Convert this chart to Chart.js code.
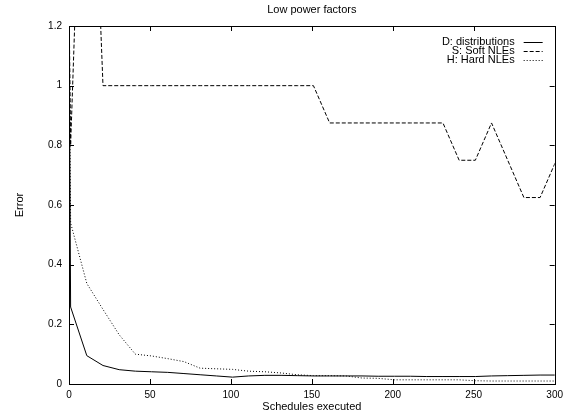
<!DOCTYPE html>
<html>
<head>
<meta charset="utf-8">
<script src="https://cdn.jsdelivr.net/npm/chart.js@4.4.1/dist/chart.umd.min.js"></script>
<style>
  html, body { margin: 0; padding: 0; background: #fff; }
</style>
</head>
<body>
<canvas id="chart" width="568" height="414"></canvas>
<script>
// schedules executed (x) and error per method
const schedules = [0, 1, 11, 21, 31, 41, 51, 61, 71, 81, 91, 101, 111, 121, 131, 141, 151,
  161, 171, 181, 191, 201, 211, 221, 231, 241, 251, 261, 271, 281, 291, 301];
const distributions = [1.3, 0.258, 0.095, 0.062, 0.048, 0.043, 0.041, 0.039, 0.035, 0.031, 0.027, 0.023,
  0.027, 0.029, 0.029, 0.028, 0.027, 0.027, 0.027, 0.027, 0.026, 0.026, 0.026, 0.025, 0.025, 0.025,
  0.025, 0.027, 0.028, 0.029, 0.03, 0.03];
const softNLEs = [1.3, 0.8, 2.4, 1, 1, 1, 1, 1, 1, 1, 1, 1, 1, 1, 1, 1, 1,
  0.875, 0.875, 0.875, 0.875, 0.875, 0.875, 0.875, 0.875, 0.75, 0.75, 0.875, 0.75, 0.625, 0.625, 0.75];
const hardNLEs = [1.3, 0.54, 0.337, 0.25, 0.165, 0.1, 0.094, 0.085, 0.075, 0.053, 0.051, 0.049,
  0.043, 0.041, 0.037, 0.031, 0.028, 0.028, 0.027, 0.02, 0.019, 0.014, 0.014, 0.014, 0.014, 0.014,
  0.011, 0.01, 0.01, 0.01, 0.01, 0.01];
const seriesLabels = ['D: distributions', 'S: Soft NLEs', 'H: Hard NLEs'];
const xTicks = [0, 50, 100, 150, 200, 250, 300];
const yTicks = [0, 0.2, 0.4, 0.6, 0.8, 1, 1.2];
const chartTitle = 'Low power factors';

const FONT = 'Liberation Sans, Arial, Helvetica, sans-serif';

function toPoints(ys) {
  return schedules.map((x, i) => ({ x: x, y: ys[i] }));
}

// gnuplot-like frame with inward ticks on all four sides
const framePlugin = {
  id: 'frame',
  afterDatasetsDraw(chart) {
    const ctx = chart.ctx;
    const a = chart.chartArea;
    const xs = chart.scales.x, ys = chart.scales.y;
    const len = 5;
    ctx.save();
    ctx.strokeStyle = '#000';
    ctx.lineWidth = 1;
    ctx.beginPath();
    xs.ticks.forEach(t => {
      const px = Math.round(xs.getPixelForValue(t.value)) + 0.5;
      ctx.moveTo(px, a.bottom); ctx.lineTo(px, a.bottom - len);
      ctx.moveTo(px, a.top); ctx.lineTo(px, a.top + len);
    });
    ys.ticks.forEach(t => {
      const py = Math.round(ys.getPixelForValue(t.value)) + 0.5;
      ctx.moveTo(a.left, py); ctx.lineTo(a.left + len, py);
      ctx.moveTo(a.right, py); ctx.lineTo(a.right - len, py);
    });
    ctx.stroke();
    ctx.strokeRect(Math.round(a.left) + 0.5, Math.round(a.top) + 0.5,
      Math.round(a.right - a.left), Math.round(a.bottom - a.top));
    ctx.restore();
  }
};

// title over the plot area, legend in its top right corner
const keyPlugin = {
  id: 'key',
  afterDraw(chart) {
    const ctx = chart.ctx;
    const a = chart.chartArea;
    ctx.save();
    ctx.font = '11px ' + FONT;
    ctx.fillStyle = '#000';
    ctx.textBaseline = 'middle';
    ctx.textAlign = 'center';
    ctx.fillText(chartTitle, (a.left + a.right) / 2, 10);
    ctx.textAlign = 'right';
    chart.data.datasets.forEach((ds, i) => {
      const y = a.top + 16 + i * 9;
      ctx.fillText(ds.label, a.right - 40, y);
      ctx.beginPath();
      ctx.setLineDash(ds.borderDash || []);
      ctx.strokeStyle = ds.borderColor;
      ctx.lineWidth = ds.borderWidth;
      ctx.moveTo(a.right - 31, Math.round(y) + 0.5);
      ctx.lineTo(a.right - 12, Math.round(y) + 0.5);
      ctx.stroke();
    });
    ctx.restore();
  }
};

new Chart(document.getElementById('chart').getContext('2d'), {
  type: 'line',
  data: {
    datasets: [{
      label: seriesLabels[0],
      data: toPoints(distributions),
      borderColor: '#000',
      borderWidth: 1,
      borderDash: [],
      pointRadius: 0,
      tension: 0
    }, {
      label: seriesLabels[1],
      data: toPoints(softNLEs),
      borderColor: '#000',
      borderWidth: 1,
      borderDash: [4, 2],
      pointRadius: 0,
      tension: 0
    }, {
      label: seriesLabels[2],
      data: toPoints(hardNLEs),
      borderColor: '#000',
      borderWidth: 1,
      borderDash: [1, 2],
      pointRadius: 0,
      tension: 0
    }]
  },
  options: {
    responsive: false,
    animation: false,
    devicePixelRatio: 1,
    layout: { padding: { left: 0, right: 8, top: 26, bottom: 0 } },
    plugins: {
      legend: { display: false },
      tooltip: { enabled: false },
      title: { display: false }
    },
    scales: {
      x: {
        type: 'linear',
        min: 0,
        max: 300,
        afterFit(scale) { scale.height = 30; },
        afterBuildTicks(scale) { scale.ticks = xTicks.map(v => ({ value: v })); },
        grid: { display: false, drawTicks: false },
        border: { display: false },
        ticks: {
          color: '#000', padding: 5, maxRotation: 0,
          font: { family: FONT, size: 10 },
          callback: v => String(v)
        },
        title: {
          display: true,
          text: 'Schedules executed',
          color: '#000',
          font: { family: FONT, size: 11 },
          padding: { top: 0, bottom: 0 }
        }
      },
      y: {
        min: 0,
        max: 1.2,
        afterFit(scale) { scale.width = 69; },
        afterBuildTicks(scale) { scale.ticks = yTicks.map(v => ({ value: v })); },
        grid: { display: false, drawTicks: false },
        border: { display: false },
        ticks: {
          color: '#000', padding: 7,
          font: { family: FONT, size: 10 },
          callback: v => String(v)
        },
        title: {
          display: true,
          text: 'Error',
          color: '#000',
          font: { family: FONT, size: 11 },
          padding: { top: 13, bottom: 0 }
        }
      }
    }
  },
  plugins: [framePlugin, keyPlugin]
});
</script>
</body>
</html>
